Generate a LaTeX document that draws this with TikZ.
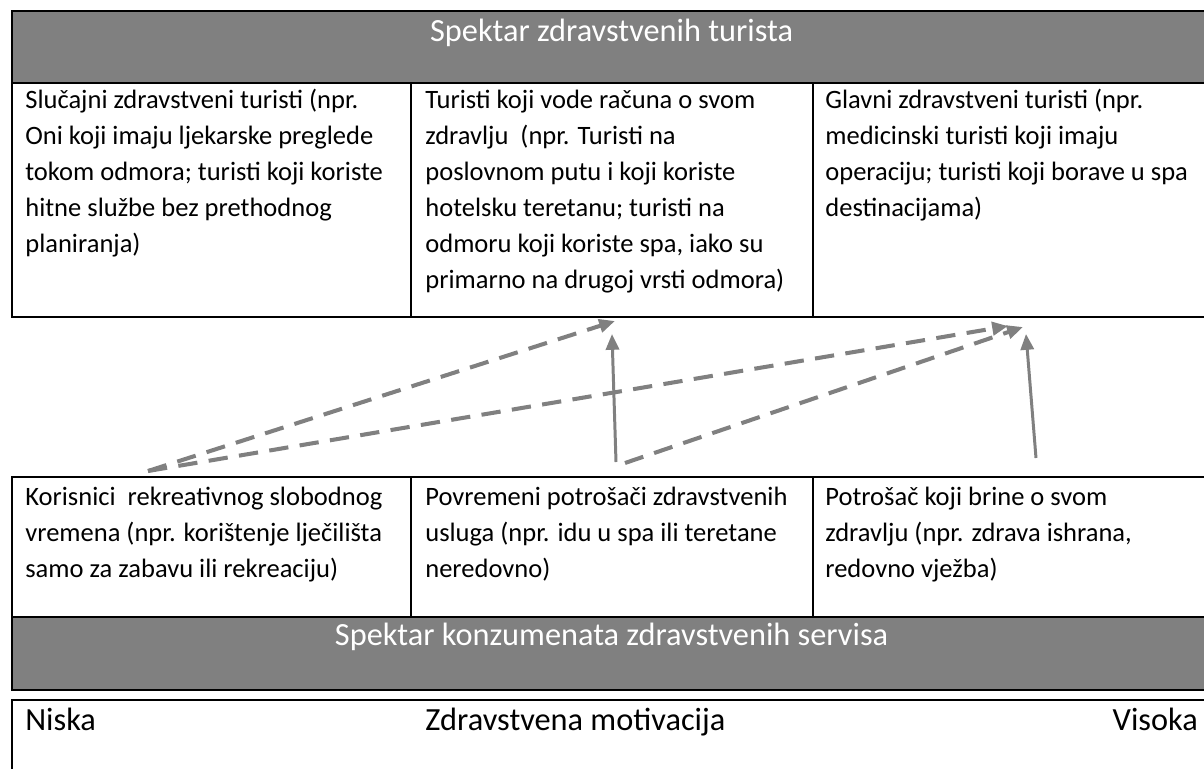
\documentclass[tikz,border=0pt]{standalone}
\usepackage{fontspec}
\setmainfont{Carlito}
\usetikzlibrary{arrows.meta,positioning,calc}
\definecolor{bandgray}{RGB}{128,128,128}
\definecolor{arrowgray}{RGB}{128,128,128}
\newlength{\pxl}
\setlength{\pxl}{0.02cm}
\tikzset{
  basecell/.style={rectangle,draw=black,line width=1.2pt,anchor=north west,inner sep=0pt},
  bandcell/.style={basecell,fill=bandgray},
  celltext/.style={anchor=base west,inner sep=0pt,align=flush left,text width=600\pxl,font=\fontsize{15.1}{20.6}\selectfont},
  bandtext/.style={anchor=base,inner sep=0pt,text=white,font=\fontsize{18.4}{22}\selectfont},
  foottext/.style={inner sep=0pt,font=\fontsize{18.4}{22}\selectfont},
  dasharr/.style={-{Triangle[length=9pt,width=7.5pt]},line width=2.3pt,dash pattern=on 11pt off 6.5pt,color=arrowgray},
  solidarr/.style={-{Triangle[length=9pt,width=7.5pt]},line width=1.7pt,color=arrowgray}
}

\begin{document}
\begin{tikzpicture}[x=0.02cm,y=-0.02cm]
  \useasboundingbox (0,0) rectangle (1204,768);
  \clip (0,0) rectangle (1204,768);

  % tourists
  \node[bandcell,minimum width=1199\pxl,minimum height=72\pxl] (tourhead) at (11,10) {};
  \node[basecell,minimum width=399\pxl,minimum height=234\pxl] (tour1) at (11,82) {};
  \node[basecell,minimum width=402\pxl,minimum height=234\pxl] (tour2) at (410,82) {};
  \node[basecell,minimum width=398\pxl,minimum height=234\pxl] (tour3) at (812,82) {};

  % consumers
  \node[basecell,minimum width=399\pxl,minimum height=140\pxl] (cons1) at (11,476) {};
  \node[basecell,minimum width=402\pxl,minimum height=140\pxl] (cons2) at (410,476) {};
  \node[basecell,minimum width=398\pxl,minimum height=140\pxl] (cons3) at (812,476) {};
  \node[bandcell,minimum width=1199\pxl,minimum height=73\pxl] (conshead) at (11,616) {};

  % motivation
  \node[basecell,minimum width=1199\pxl,minimum height=90\pxl] (motiv) at (11,699) {};

  \node[bandtext] (tourheadtxt) at ($(tourhead.north)+(0,31)$) {Spektar zdravstvenih turista};
  \node[celltext] (tour1txt) at ($(tour1.north west)+(14,26)$) {Slučajni zdravstveni turisti (npr.\\Oni koji imaju ljekarske preglede\\tokom odmora; turisti koji koriste\\hitne službe bez prethodnog\\planiranja)};
  \node[celltext] (tour2txt) at ($(tour2.north west)+(15,26)$) {Turisti koji vode računa o svom\\zdravlju\ \ (npr. Turisti na\\poslovnom putu i koji koriste\\hotelsku teretanu; turisti na\\odmoru koji koriste spa, iako su\\primarno na drugoj vrsti odmora)};
  \node[celltext] (tour3txt) at ($(tour3.north west)+(13,26)$) {Glavni zdravstveni turisti (npr.\\medicinski turisti koji imaju\\operaciju; turisti koji borave u spa\\destinacijama)};

  \node[celltext] (cons1txt) at ($(cons1.north west)+(14,29)$) {Korisnici\ \ rekreativnog slobodnog\\vremena (npr. korištenje lječilišta\\samo za zabavu ili rekreaciju)};
  \node[celltext] (cons2txt) at ($(cons2.north west)+(15,29)$) {Povremeni potrošači zdravstvenih\\usluga (npr. idu u spa ili teretane\\neredovno)};
  \node[celltext] (cons3txt) at ($(cons3.north west)+(13,29)$) {Potrošač koji brine o svom\\zdravlju (npr. zdrava ishrana,\\redovno vježba)};
  \node[bandtext] (consheadtxt) at ($(conshead.north)+(0,29)$) {Spektar konzumenata zdravstvenih servisa};

  \node[foottext,anchor=base west] (low) at ($(motiv.north west)+(14,31)$) {Niska};
  \node[foottext,anchor=base west] (mid) at ($(motiv.north west)+(414,31)$) {Zdravstvena motivacija};
  \node[foottext,anchor=base east] (high) at ($(motiv.north east)+(-14,31)$) {Visoka};

  % arrows between the spectra
  \coordinate (fromA) at (148,471);
  \coordinate (fromB) at (616,462);
  \coordinate (fromBd) at (625,463);
  \coordinate (fromC) at (1036,458);
  \coordinate (toB) at (615,321);
  \coordinate (toBs) at (612,334);
  \coordinate (toC) at (1008,326);
  \coordinate (toCd) at (1023,327);
  \coordinate (toCs) at (1026,334);

  \draw[dasharr] (fromA) -- (toB);
  \draw[dasharr] (fromA) -- (toC);
  \draw[solidarr] (fromB) -- (toBs);
  \draw[dasharr] (fromBd) -- (toCd);
  \draw[solidarr] (fromC) -- (toCs);
\end{tikzpicture}
\end{document}
